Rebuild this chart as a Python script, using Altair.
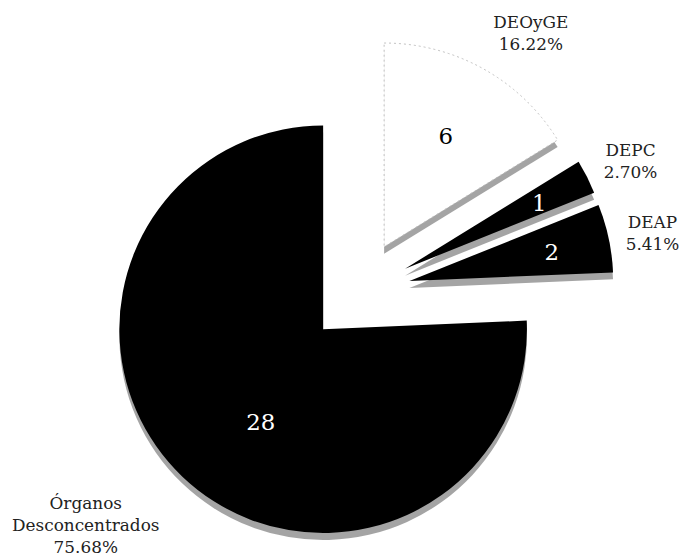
import altair as alt
import pandas as pd

# ---- data ----
names = ["DEOyGE", "DEPC", "DEAP", "Órganos Desconcentrados"]
counts = [6, 1, 2, 28]

# ---- styles / label layout (per slice) ----
fills = ["#ffffff", "#000000", "#000000", "#000000"]
value_colors = ["#000000", "#ffffff", "#ffffff", "#ffffff"]
inner_r = [127, 150, 146, 113]
inner_adj = [0, 1, 1, -10]
outer_r = [260, 251, 249, 310]
outer_adj = [5.4, 1.4, 1.2, 6.6]

CX, CY = 353, 284        # pie centre (chart coords)
EXPLODE = 52             # explosion distance
R = 205                  # radius
SH_DX, SH_DY = 0, 7      # shadow offset
FONT = "DejaVu Serif"
LH = 22                  # label line height

df = pd.DataFrame({
    "name": names,
    "n": counts,
    "order": list(range(len(names))),
    "fill": fills,
    "vcol": value_colors,
    "ir": inner_r,
    "ia": inner_adj,
    "orr": outer_r,
    "oa": outer_adj,
})

base = (
    alt.Chart(df)
    .transform_joinaggregate(total="sum(n)")
    .transform_window(cum="sum(n)", sort=[alt.SortField("order")], frame=[None, 0])
    .transform_calculate(
        t0="2*PI*(datum.cum - datum.n)/datum.total",
        t1="2*PI*datum.cum/datum.total",
    )
    .transform_calculate(mid="(datum.t0 + datum.t1)/2")
    .transform_calculate(
        sx=f"{CX} + {EXPLODE}*sin(datum.mid)",
        sy=f"{CY} - {EXPLODE}*cos(datum.mid)",
    )
    .transform_calculate(
        shx=f"datum.sx + {SH_DX}",
        shy=f"datum.sy + {SH_DY}",
        lx="datum.sx + datum.ir*sin(datum.mid + datum.ia*PI/180)",
        ly="datum.sy - datum.ir*cos(datum.mid + datum.ia*PI/180)",
        ox="datum.sx + datum.orr*sin(datum.mid + datum.oa*PI/180)",
        oyc="datum.sy - datum.orr*cos(datum.mid + datum.oa*PI/180)",
        pct="format(datum.n/datum.total, '.2%')",
    )
    .transform_calculate(
        outer_label="replace(datum.name, ' ', '\\n') + '\\n' + datum.pct"
    )
    .transform_calculate(
        oy=f"datum.oyc - (length(split(datum.outer_label, '\\n')) - 1)*{LH}/2"
    )
)

theta = alt.Theta("t0:Q", scale=None, stack=None)
theta2 = alt.Theta2("t1:Q")

shadow = base.mark_arc(outerRadius=R, fill="#9a9a9a", opacity=0.9).encode(
    x=alt.X("shx:Q", scale=None, axis=None),
    y=alt.Y("shy:Q", scale=None, axis=None),
    theta=theta,
    theta2=theta2,
)

slices = base.mark_arc(outerRadius=R).encode(
    x=alt.X("sx:Q", scale=None, axis=None),
    y=alt.Y("sy:Q", scale=None, axis=None),
    theta=theta,
    theta2=theta2,
    fill=alt.Fill("fill:N", scale=None, legend=None),
)

outline = (
    base.transform_filter("datum.fill == '#ffffff'")
    .mark_arc(outerRadius=R, fillOpacity=0, stroke="#c0c0c0", strokeWidth=1, strokeDash=[2, 3])
    .encode(
        x=alt.X("sx:Q", scale=None, axis=None),
        y=alt.Y("sy:Q", scale=None, axis=None),
        theta=theta,
        theta2=theta2,
    )
)

values = base.mark_text(font=FONT, fontSize=23, align="center", baseline="middle").encode(
    x=alt.X("lx:Q", scale=None, axis=None),
    y=alt.Y("ly:Q", scale=None, axis=None),
    text=alt.Text("n:Q"),
    color=alt.Color("vcol:N", scale=None, legend=None),
)

labels = base.mark_text(
    font=FONT, fontSize=17, align="center", baseline="middle", lineBreak="\n", lineHeight=LH, color="#222222"
).encode(
    x=alt.X("ox:Q", scale=None, axis=None),
    y=alt.Y("oy:Q", scale=None, axis=None),
    text=alt.Text("outer_label:N"),
)

chart = (
    alt.layer(shadow, slices, outline, values, labels)
    .properties(width=675, height=550, padding=0, autosize="none", background="#ffffff")
    .configure_view(stroke=None)
)

chart.save("out.html", embed_options={"renderer": "svg", "actions": False})
